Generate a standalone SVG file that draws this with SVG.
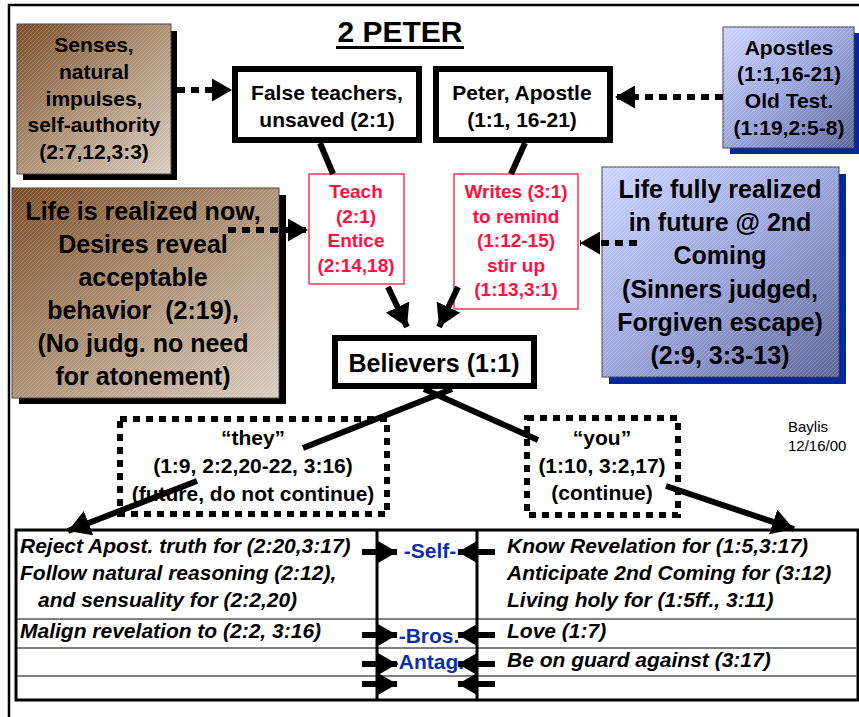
<svg xmlns="http://www.w3.org/2000/svg" width="859" height="717" viewBox="0 0 859 717">
<defs>
<linearGradient id="brown" x1="0" y1="0" x2="1" y2="1">
<stop offset="0" stop-color="#7a4c25"/>
<stop offset="0.45" stop-color="#a88a6e"/>
<stop offset="1" stop-color="#d9cbbd"/>
</linearGradient>
<linearGradient id="blue" x1="0" y1="0" x2="1" y2="1">
<stop offset="0" stop-color="#cdd5ff"/>
<stop offset="0.5" stop-color="#9aa4dc"/>
<stop offset="1" stop-color="#5c6498"/>
</linearGradient>
<pattern id="hatch" patternUnits="userSpaceOnUse" width="4" height="4">
<path d="M-1,1 l2,-2 M0,4 l4,-4 M3,5 l2,-2" stroke="#ffffff" stroke-opacity="0.28" stroke-width="0.8"/>
</pattern>
<marker id="head" viewBox="0 0 20 23" refX="20" refY="11.5" markerWidth="20" markerHeight="23" markerUnits="userSpaceOnUse" orient="auto">
<path d="M0,0 L20,11.5 L0,23 z" fill="#000"/>
</marker>
<marker id="headB" viewBox="0 0 22 26" refX="22" refY="13" markerWidth="22" markerHeight="26" markerUnits="userSpaceOnUse" orient="auto">
<path d="M0,0 L22,13 L0,26 z" fill="#000"/>
</marker>
<marker id="headS" viewBox="0 0 19 22" refX="19" refY="11" markerWidth="19" markerHeight="22" markerUnits="userSpaceOnUse" orient="auto">
<path d="M0,0 L19,11 L0,22 z" fill="#000"/>
</marker>
<style>
text{font-family:"Liberation Sans",Arial,sans-serif;font-weight:bold;fill:#000;white-space:pre}
.c{text-anchor:middle}
.f21{font-size:21px}
.f25{font-size:25px}
.red{font-size:19px;fill:#ff1040}
.blu{font-size:21px;fill:#0d2fa6;text-anchor:middle}
.it{font-size:21px;font-style:italic}
.thin{font-weight:normal;font-size:15px}
.wbox{fill:#fff;stroke:#000;stroke-width:6}
.rbox{fill:#fff;stroke:#ff3355;stroke-width:1.5}
.dot{fill:none;stroke:#000;stroke-width:6;stroke-dasharray:7 6}
.con{fill:none;stroke:#000;stroke-width:6}
.dash{fill:none;stroke:#000;stroke-width:6;stroke-dasharray:8 6}
.row{stroke:#555;stroke-width:1.5}
</style>
</defs>
<rect width="859" height="717" fill="#fff"/>
<g id="frame">
<path d="M9,717 V5 H859" fill="none" stroke="#000" stroke-width="2.5"/>
</g>
<g id="title">
<text class="c" x="400" y="42" style="font-size:30px">2 PETER</text>
<rect x="336" y="46" width="128" height="3" fill="#000"/>
</g>
<g id="senses">
<rect x="23" y="31" width="154" height="149" fill="#000"/>
<rect x="17" y="24" width="154" height="150" fill="url(#brown)" stroke="#444" stroke-width="1"/>
<rect x="17" y="24" width="154" height="150" fill="url(#hatch)"/>
<text class="c f21" x="94" y="52">Senses,</text>
<text class="c f21" x="94" y="79">natural</text>
<text class="c f21" x="94" y="106">impulses,</text>
<text class="c f21" x="94" y="132">self-authority</text>
<text class="c f21" x="94" y="159">(2:7,12,3:3)</text>
</g>
<g id="false-teachers">
<rect class="wbox" x="235" y="69" width="184" height="71"/>
<text class="c f21" x="327" y="100">False teachers,</text>
<text class="c f21" x="327" y="127">unsaved (2:1)</text>
</g>
<g id="peter">
<rect class="wbox" x="436" y="69" width="174" height="71"/>
<text class="c f21" x="522" y="100">Peter, Apostle</text>
<text class="c f21" x="522" y="127">(1:1, 16-21)</text>
</g>
<g id="apostles">
<rect x="730" y="33" width="131" height="121" fill="#0026a0"/>
<rect x="723" y="27" width="131" height="121" fill="url(#blue)" stroke="#444" stroke-width="1"/>
<rect x="723" y="27" width="131" height="121" fill="url(#hatch)"/>
<text class="c f21" x="789" y="55">Apostles</text>
<text class="c f21" x="789" y="81">(1:1,16-21)</text>
<text class="c f21" x="789" y="108">Old Test.</text>
<text class="c f21" x="789" y="135">(1:19,2:5-8)</text>
</g>
<g id="teach">
<rect class="rbox" x="309" y="174" width="95" height="110"/>
<text class="c red" x="356" y="198">Teach</text>
<text class="c red" x="356" y="223">(2:1)</text>
<text class="c red" x="356" y="247">Entice</text>
<text class="c red" x="356" y="272">(2:14,18)</text>
</g>
<g id="writes">
<rect class="rbox" x="454" y="174" width="124" height="135"/>
<text class="c red" x="516" y="198">Writes (3:1)</text>
<text class="c red" x="516" y="223">to remind</text>
<text class="c red" x="516" y="247">(1:12-15)</text>
<text class="c red" x="516" y="272">stir up</text>
<text class="c red" x="516" y="296">(1:13,3:1)</text>
</g>
<g id="life-now">
<rect x="19" y="195" width="267" height="209" fill="#000"/>
<rect x="12" y="188" width="267" height="210" fill="url(#brown)" stroke="#444" stroke-width="1"/>
<rect x="12" y="188" width="267" height="210" fill="url(#hatch)"/>
<text class="c f25" x="143" y="220">Life is realized now,</text>
<text class="c f25" x="143" y="253">Desires reveal</text>
<text class="c f25" x="143" y="286">acceptable</text>
<text class="c f25" x="143" y="319">behavior  (2:19),</text>
<text class="c f25" x="143" y="352">(No judg. no need</text>
<text class="c f25" x="143" y="385">for atonement)</text>
</g>
<g id="life-future">
<rect x="609" y="174" width="237" height="210" fill="#0026a0"/>
<rect x="602" y="167" width="237" height="210" fill="url(#blue)" stroke="#444" stroke-width="1"/>
<rect x="602" y="167" width="237" height="210" fill="url(#hatch)"/>
<text class="c f25" x="720" y="198">Life fully realized</text>
<text class="c f25" x="720" y="231">in future @ 2nd</text>
<text class="c f25" x="720" y="264">Coming</text>
<text class="c f25" x="720" y="298">(Sinners judged,</text>
<text class="c f25" x="720" y="331">Forgiven escape)</text>
<text class="c f25" x="720" y="364">(2:9, 3:3-13)</text>
</g>
<g id="believers">
<rect class="wbox" x="335" y="338" width="199" height="48"/>
<text class="c f25" x="434" y="372">Believers (1:1)</text>
</g>
<g id="they">
<rect class="dot" x="120" y="419" width="267" height="95"/>
<text class="c f21" x="253" y="445">“they”</text>
<text class="c f21" x="253" y="473">(1:9, 2:2,20-22, 3:16)</text>
<text class="c f21" x="253" y="501">(future, do not continue)</text>
</g>
<g id="you">
<rect class="dot" x="527" y="418" width="151" height="97"/>
<text class="c f21" x="602" y="445">“you”</text>
<text class="c f21" x="602" y="473">(1:10, 3:2,17)</text>
<text class="c f21" x="602" y="500">(continue)</text>
</g>
<g id="baylis">
<text class="thin" x="788" y="432">Baylis</text>
<text class="thin" x="788" y="451">12/16/00</text>
</g>
<g id="table">
<rect x="16" y="530" width="842" height="170" fill="#fff" stroke="#000" stroke-width="3"/>
<line class="row" x1="17" y1="619" x2="857" y2="619"/>
<line class="row" x1="17" y1="648" x2="857" y2="648"/>
<line class="row" x1="17" y1="676" x2="857" y2="676"/>
<line x1="377" y1="530" x2="377" y2="700" stroke="#000" stroke-width="3"/>
<line x1="477" y1="530" x2="477" y2="700" stroke="#000" stroke-width="3"/>
<text class="it" x="20" y="553">Reject Apost. truth for (2:20,3:17)</text>
<text class="it" x="20" y="580">Follow natural reasoning (2:12),</text>
<text class="it" x="38" y="607">and sensuality for (2:2,20)</text>
<text class="it" x="20" y="638">Malign revelation to (2:2, 3:16)</text>
<text class="it" x="507" y="553">Know Revelation for (1:5,3:17)</text>
<text class="it" x="507" y="580">Anticipate 2nd Coming for (3:12)</text>
<text class="it" x="507" y="607">Living holy for (1:5ff., 3:11)</text>
<text class="it" x="507" y="638">Love (1:7)</text>
<text class="it" x="507" y="667">Be on guard against (3:17)</text>
<text class="blu" x="430" y="558">-Self-</text>
<text class="blu" x="429" y="643">-Bros.</text>
<text class="blu" x="428" y="669">-Antag.</text>
</g>
<g id="connectors">
<line class="dash" x1="177" y1="90" x2="232" y2="90" marker-end="url(#head)"/>
<line class="dash" x1="723" y1="97" x2="615" y2="97" marker-end="url(#head)"/>
<line class="dash" x1="228" y1="230" x2="308" y2="230" marker-end="url(#head)"/>
<line class="dash" x1="637" y1="243" x2="580" y2="243" marker-end="url(#head)"/>
<line class="con" x1="320" y1="143" x2="333" y2="174"/>
<line class="con" x1="525" y1="143" x2="511" y2="174"/>
<line class="con" x1="388" y1="287" x2="407" y2="327" marker-end="url(#headB)"/>
<line class="con" x1="458" y1="287" x2="439" y2="327" marker-end="url(#headB)"/>
<line class="con" x1="452" y1="389" x2="303" y2="448"/>
<line class="con" x1="197" y1="481" x2="68" y2="531" marker-end="url(#headB)"/>
<line class="con" x1="424" y1="389" x2="538" y2="440"/>
<line class="con" x1="666" y1="486" x2="794" y2="529" marker-end="url(#headB)"/>
<line class="con" x1="362" y1="552" x2="397" y2="552" marker-end="url(#headS)"/>
<line class="con" x1="362" y1="635" x2="397" y2="635" marker-end="url(#headS)"/>
<line class="con" x1="362" y1="664" x2="397" y2="664" marker-end="url(#headS)"/>
<line class="con" x1="362" y1="684" x2="397" y2="684" marker-end="url(#headS)"/>
<line class="con" x1="495" y1="552" x2="458" y2="552" marker-end="url(#headS)"/>
<line class="con" x1="495" y1="635" x2="458" y2="635" marker-end="url(#headS)"/>
<line class="con" x1="495" y1="664" x2="458" y2="664" marker-end="url(#headS)"/>
<line class="con" x1="495" y1="684" x2="458" y2="684" marker-end="url(#headS)"/>
</g>
</svg>
